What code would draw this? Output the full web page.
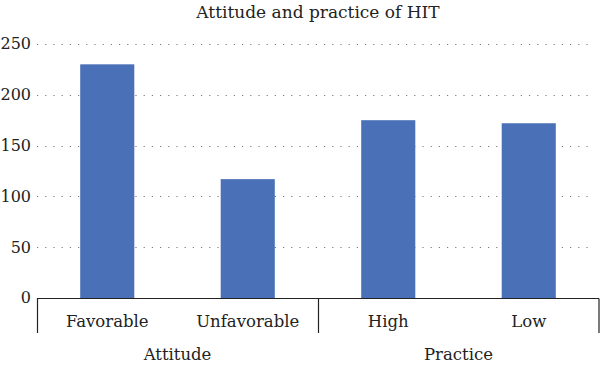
<!DOCTYPE html>
<html lang="en">
  <head>
    <meta charset="utf-8" />
    <title>Attitude and practice of HIT</title>
    <script src="https://d3js.org/d3.v7.min.js"></script>
    <style>
      body { margin: 0; background: #fff; }
      svg text { font-family: "DejaVu Serif", serif; fill: #222; }
    </style>
  </head>
  <body>
    <div id="chart"></div>
    <script>
      const w = 600;
      const h = 368;

      // data
      const categories = ["Favorable", "Unfavorable", "High", "Low"];
      const values = [230, 117, 175, 172];
      const groups = ["Attitude", "Attitude", "Practice", "Practice"];
      const groupNames = ["Attitude", "Practice"];
      const yTicks = [0, 50, 100, 150, 200, 250];

      const margin = { left: 37, right: 1, top: 44, bottom: 70 };

      const svg = d3
        .select("#chart")
        .append("svg")
        .attr("width", w)
        .attr("height", h);

      const x = d3
        .scaleBand()
        .domain(categories)
        .range([margin.left, w - margin.right])
        .paddingInner(0.615)
        .paddingOuter(0.3075);

      const y = d3
        .scaleLinear()
        .domain([0, 250])
        .range([h - margin.bottom, margin.top]);

      // dotted gridlines
      svg
        .append("g")
        .selectAll("line")
        .data(yTicks.filter((d) => d > 0))
        .join("line")
        .attr("x1", margin.left)
        .attr("x2", w - 8)
        .attr("y1", (d) => Math.round(y(d)) + 0.5)
        .attr("y2", (d) => Math.round(y(d)) + 0.5)
        .attr("stroke", "#7a7a7a")
        .attr("stroke-width", 1)
        .attr("stroke-dasharray", "1.2,7");

      // y tick labels
      svg
        .append("g")
        .selectAll("text")
        .data(yTicks)
        .join("text")
        .attr("x", 31)
        .attr("y", (d) => y(d))
        .attr("dy", "0.34em")
        .attr("text-anchor", "end")
        .style("font-size", "16px")
        .text((d) => d);

      // bars
      svg
        .append("g")
        .selectAll("rect")
        .data(values)
        .join("rect")
        .attr("x", (d, i) => x(categories[i]))
        .attr("y", (d) => y(d))
        .attr("width", x.bandwidth())
        .attr("height", (d) => y(0) - y(d))
        .attr("fill", "#4a71b8");

      // x axis line and group separators
      const base = Math.round(y(0)) + 0.5;
      svg
        .append("line")
        .attr("x1", margin.left)
        .attr("x2", w - margin.right)
        .attr("y1", base)
        .attr("y2", base)
        .attr("stroke", "#222")
        .attr("stroke-width", 1.2);

      const step = x.step();
      const sepX = [0, 2, 4].map((i) => margin.left + i * step);
      svg
        .append("g")
        .selectAll("line")
        .data(sepX)
        .join("line")
        .attr("x1", (d) => Math.min(Math.round(d) + 0.5, w - 1))
        .attr("x2", (d) => Math.min(Math.round(d) + 0.5, w - 1))
        .attr("y1", base)
        .attr("y2", 333)
        .attr("stroke", "#222")
        .attr("stroke-width", 1.2);

      // category labels
      svg
        .append("g")
        .selectAll("text")
        .data(categories)
        .join("text")
        .attr("x", (d) => x(d) + x.bandwidth() / 2)
        .attr("y", 327)
        .attr("text-anchor", "middle")
        .style("font-size", "16.5px")
        .text((d) => d);

      // group labels
      svg
        .append("g")
        .selectAll("text")
        .data(groupNames)
        .join("text")
        .attr("x", (d) => {
          const idx = groups.map((g, i) => (g === d ? i : -1)).filter((i) => i >= 0);
          return margin.left + ((idx[0] + idx[idx.length - 1] + 1) / 2) * step;
        })
        .attr("y", 360)
        .attr("text-anchor", "middle")
        .style("font-size", "16.5px")
        .text((d) => d);

      // title
      svg
        .append("text")
        .attr("x", (margin.left + w - margin.right) / 2)
        .attr("y", 18)
        .attr("text-anchor", "middle")
        .style("font-size", "17px")
        .text("Attitude and practice of HIT");
    </script>
  </body>
</html>
